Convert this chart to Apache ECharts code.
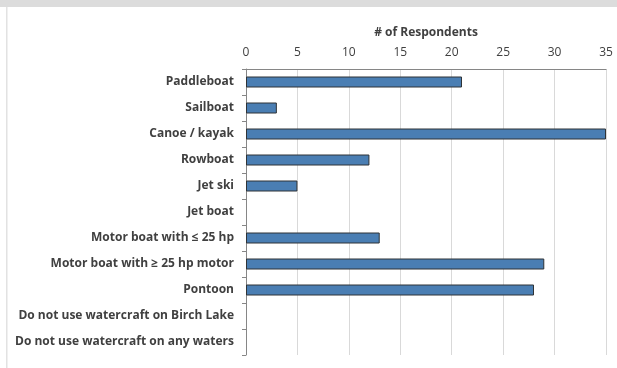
<!DOCTYPE html>
<html>
<head>
<meta charset="utf-8">
<script src="https://cdn.jsdelivr.net/npm/echarts@6/dist/echarts.min.js"></script>
<style>
  html, body { margin: 0; padding: 0; background: #fff; }
  #chart { width: 617px; height: 368px; }
</style>
</head>
<body>
<div id="chart"></div>
<script>
var categories = [
  'Paddleboat',
  'Sailboat',
  'Canoe / kayak',
  'Rowboat',
  'Jet ski',
  'Jet boat',
  'Motor boat with \u2264 25 hp',
  'Motor boat with \u2265 25 hp motor',
  'Pontoon',
  'Do not use watercraft on Birch Lake',
  'Do not use watercraft on any waters'
];
var respondents = [21, 3, 35, 12, 5, 0, 13, 29, 28, 0, 0];
var xTicks = [0, 5, 10, 15, 20, 25, 30, 35];

var font = '"Open Sans", Lato, sans-serif';
var chart = echarts.init(document.getElementById('chart'));

// zero-count rows draw nothing (no outline sliver)
var barData = respondents.map(function (v) {
  return v === 0 ? { value: v, itemStyle: { borderWidth: 0, opacity: 0 } } : v;
});

chart.setOption({
  animation: false,
  graphic: [
    { type: 'rect', shape: { x: 0, y: 0, width: 617, height: 7 }, style: { fill: '#dcdcdc' } },
    { type: 'rect', shape: { x: 6, y: 7, width: 1.5, height: 361 }, style: { fill: '#e2e2e2' } }
  ],
  grid: { left: 246, right: 11, top: 69, bottom: 13 },
  xAxis: {
    type: 'value',
    position: 'top',
    min: xTicks[0],
    max: xTicks[xTicks.length - 1],
    interval: 5,
    name: '# of Respondents',
    nameLocation: 'middle',
    nameGap: 30,
    nameTextStyle: { fontFamily: font, fontWeight: 'bold', fontSize: 12, color: '#404040' },
    axisLine: { show: true, lineStyle: { color: '#868686', width: 1 } },
    axisTick: { show: false },
    axisLabel: { fontFamily: font, fontSize: 12, color: '#404040', margin: 10 },
    splitLine: { show: true, lineStyle: { color: '#d9d9d9', width: 1 } }
  },
  yAxis: {
    type: 'category',
    inverse: true,
    data: categories,
    axisLine: { show: true, lineStyle: { color: '#868686', width: 1 } },
    axisTick: { show: true, length: 4, lineStyle: { color: '#868686' } },
    axisLabel: { fontFamily: font, fontSize: 12, fontWeight: 'bold', color: '#404040', margin: 12 }
  },
  series: [{
    type: 'bar',
    data: barData,
    barWidth: 11,
    itemStyle: {
      color: '#4a7eb3',
      borderColor: '#2f3336',
      borderWidth: 1
    }
  }]
});
</script>
</body>
</html>
